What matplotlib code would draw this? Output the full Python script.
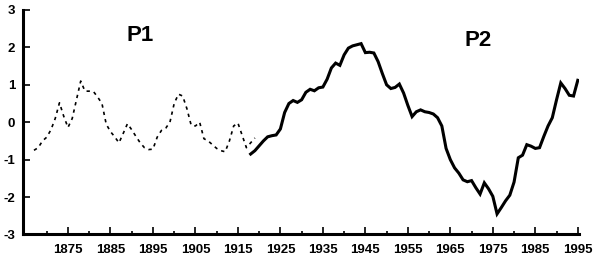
import matplotlib
matplotlib.use("Agg")
import matplotlib.pyplot as plt
from matplotlib.ticker import MultipleLocator, FixedLocator

plt.rcParams['font.family'] = ['Liberation Sans', 'DejaVu Sans']
plt.rcParams['axes.unicode_minus'] = False

# P1 (dotted) series
p1_years = list(range(1867, 1920))
p1_values = [-0.75, -0.68, -0.50, -0.40, -0.20, 0.10, 0.52, 0.16, -0.14, 0.10,
             0.60, 1.10, 0.83, 0.83, 0.82, 0.67, 0.50, -0.05, -0.25, -0.39,
             -0.55, -0.30, -0.04, -0.20, -0.38, -0.55, -0.68, -0.73, -0.72, -0.40,
             -0.22, -0.16, 0.00, 0.50, 0.75, 0.70, 0.36, -0.08, -0.10, 0.00,
             -0.44, -0.50, -0.60, -0.70, -0.76, -0.79, -0.50, -0.10, -0.02, -0.35,
             -0.68, -0.55, -0.42]

# P2 (solid) series
p2_years = list(range(1918, 1996))
p2_values = [-0.85, -0.76, -0.63, -0.50, -0.39, -0.36, -0.34, -0.18, 0.26, 0.50,
             0.58, 0.53, 0.60, 0.80, 0.88, 0.84, 0.92, 0.94, 1.15, 1.45,
             1.58, 1.52, 1.80, 1.98, 2.04, 2.07, 2.10, 1.86, 1.87, 1.85,
             1.62, 1.30, 1.00, 0.90, 0.93, 1.02, 0.78, 0.45, 0.15, 0.28,
             0.33, 0.28, 0.26, 0.22, 0.12, -0.10, -0.70, -1.00, -1.22, -1.36,
             -1.54, -1.59, -1.56, -1.75, -1.92, -1.62, -1.78, -1.98, -2.45, -2.28,
             -2.10, -1.95, -1.60, -0.95, -0.88, -0.60, -0.64, -0.70, -0.68, -0.38,
             -0.10, 0.12, 0.60, 1.05, 0.90, 0.72, 0.70, 1.12]

x_major = [1875, 1885, 1895, 1905, 1915, 1925, 1935, 1945, 1955, 1965, 1975, 1985, 1995]
x_minor = [1870, 1880, 1890, 1900, 1910, 1920, 1930, 1940, 1950, 1960, 1970, 1980, 1990]
y_ticks = [-3, -2, -1, 0, 1, 2, 3]

fig = plt.figure(figsize=(5.99, 2.62), dpi=100)
ax = fig.add_axes([0.039, 0.105, 0.927, 0.857])

ax.plot(p1_years, p1_values, color='black', lw=1.2, linestyle=(0, (2, 2.5)))
ax.plot(p2_years, p2_values, color='black', lw=2.2, solid_joinstyle='miter')

ax.text(1891.9, 2.32, 'P1', fontsize=16, fontweight='bold', ha='center', va='center')
ax.text(1971.5, 2.19, 'P2', fontsize=16, fontweight='bold', ha='center', va='center')

ax.set_xlim(1864.5, 1995.2)
ax.set_ylim(-3, 3)

ax.xaxis.set_major_locator(FixedLocator(x_major))
ax.xaxis.set_minor_locator(FixedLocator(x_minor))
ax.set_yticks(y_ticks)
ax.set_yticklabels([str(v) for v in y_ticks])

for s in ['top', 'right']:
    ax.spines[s].set_visible(False)
for s in ['left', 'bottom']:
    ax.spines[s].set_linewidth(2.2)

ax.tick_params(axis='x', which='major', direction='in', length=5, width=1.2,
               pad=7, labelsize=9.5)
ax.tick_params(axis='x', which='minor', direction='in', length=2.5, width=1.2)
ax.tick_params(axis='y', which='major', direction='in', length=5, width=1.2,
               pad=6, labelsize=9.5)
for lbl in ax.get_xticklabels() + ax.get_yticklabels():
    lbl.set_fontweight('bold')

fig.savefig('out.png', dpi=100)
